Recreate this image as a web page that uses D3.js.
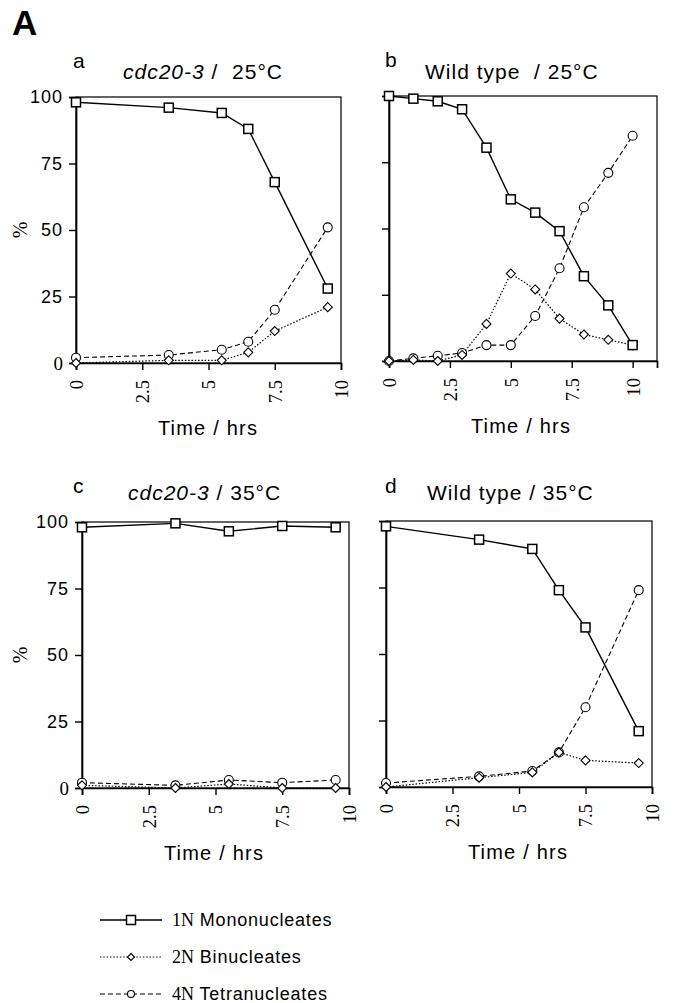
<!DOCTYPE html>
<html>
<head>
<meta charset="utf-8">
<script src="https://cdn.jsdelivr.net/npm/d3@7"></script>
<style>
  body { margin: 0; background: #fff; }
  svg { display: block; }
  text { fill: #000; }
  .sans { font-family: "Liberation Sans", Arial, sans-serif; }
  .serif { font-family: "Liberation Serif", "Times New Roman", serif; }
</style>
</head>
<body>
<script>
  // data (% of cells)
  var timesA = [0, 3.5, 5.5, 6.5, 7.5, 9.5];
  var monoA = [98, 96, 94, 88, 68, 28];
  var biA = [0, 1, 1, 4, 12, 21];
  var tetraA = [2, 3, 5, 8, 20, 51];

  var timesB = [0, 1, 2, 3, 4, 5, 6, 7, 8, 9, 10];
  var monoB = [100, 99, 98, 95, 80.5, 61, 56, 49, 32, 21, 6];
  var biB = [0, 0.4, 0, 2.3, 14, 33, 27, 16, 10, 8, 6];
  var tetraB = [0, 1, 2, 3, 6, 6, 17, 35, 58, 71, 85];

  var timesC = [0, 3.5, 5.5, 7.5, 9.5];
  var monoC = [98, 99.5, 96.5, 98.5, 98];
  var biC = [1, 0, 1.5, 0, 0];
  var tetraC = [2, 1, 3, 2, 3];

  var timesD = [0, 3.5, 5.5, 6.5, 7.5, 9.5];
  var monoD = [98, 93, 89.5, 74, 60, 21];
  var biD = [0, 3.5, 5.5, 13, 10, 9];
  var tetraD = [1.5, 4, 6, 13, 30, 74];

  var yTicks = [0, 25, 50, 75, 100];
  var xTicks = [0, 2.5, 5, 7.5, 10];
  var legendLabels = [["1N", " Mononucleates"], ["2N", " Binucleates"], ["4N", " Tetranucleates"]];

  var width = 674, height = 1003;

  var svg = d3.select("body").append("svg")
    .attr("width", width)
    .attr("height", height);

  svg.append("text")
    .attr("class", "sans")
    .attr("x", 12)
    .attr("y", 35)
    .style("font-size", "35px")
    .style("font-weight", "bold")
    .text("A");

  // series styles: solid/square, dotted/diamond, dashed/circle
  var styles = [
    { dash: null, width: 1.4, shape: "square" },
    { dash: "1.5,1.8", width: 1.2, shape: "diamond" },
    { dash: "5,3", width: 1.1, shape: "circle" }
  ];

  var panels = [
    { letter: "a", gene: "cdc20-3", temp: " /  25°C", times: timesA, series: [monoA, biA, tetraA],
      left: 76, right: 341, top: 97, bottom: 363, xMax: 10, yLabels: true, lx: 73, ly: 68, tx: 123, ty: 79 },
    { letter: "b", gene: "", temp: "Wild type  / 25°C", times: timesB, series: [monoB, biB, tetraB],
      left: 389, right: 657, top: 96, bottom: 361, xMax: 11, yLabels: false, lx: 385, ly: 67, tx: 425, ty: 79 },
    { letter: "c", gene: "cdc20-3", temp: " / 35°C", times: timesC, series: [monoC, biC, tetraC],
      left: 82, right: 349, top: 522, bottom: 788, xMax: 10, yLabels: true, lx: 73, ly: 493, tx: 128, ty: 500 },
    { letter: "d", gene: "", temp: "Wild type / 35°C", times: timesD, series: [monoD, biD, tetraD],
      left: 386, right: 652, top: 521, bottom: 787, xMax: 10, yLabels: false, lx: 385, ly: 493, tx: 427, ty: 500 }
  ];

  function drawMarker(g, shape, x, y, s) {
    if (shape == "square") {
      g.append("rect")
        .attr("x", x - s / 2).attr("y", y - s / 2)
        .attr("width", s).attr("height", s)
        .attr("fill", "#fff").attr("stroke", "#000").attr("stroke-width", 1.5);
    } else if (shape == "diamond") {
      var h = s / 2;
      g.append("path")
        .attr("d", `M${x},${y - h}L${x + h},${y}L${x},${y + h}L${x - h},${y}Z`)
        .attr("fill", "#fff").attr("stroke", "#000").attr("stroke-width", 1.1);
    } else {
      g.append("circle")
        .attr("cx", x).attr("cy", y).attr("r", s / 2)
        .attr("fill", "#fff").attr("stroke", "#000").attr("stroke-width", 1.1);
    }
  }

  panels.forEach(function(p) {
    var x = d3.scaleLinear().domain([0, p.xMax]).range([p.left, p.right]);
    var y = d3.scaleLinear().domain([0, 100]).range([p.bottom, p.top]);
    var g = svg.append("g");

    // panel letter and title
    g.append("text").attr("class", "sans")
      .attr("x", p.lx).attr("y", p.ly)
      .style("font-size", "21px")
      .text(p.letter);
    var title = g.append("text").attr("class", "sans")
      .attr("x", p.tx).attr("y", p.ty)
      .style("font-size", "21px")
      .style("letter-spacing", "1px")
      .style("white-space", "pre");
    if (p.gene) title.append("tspan").style("font-style", "italic").text(p.gene);
    title.append("tspan").text(p.temp);

    // frame
    g.append("rect")
      .attr("x", p.left).attr("y", p.top)
      .attr("width", p.right - p.left).attr("height", p.bottom - p.top)
      .attr("fill", "none").attr("stroke", "#111").attr("stroke-width", 1.3);

    // y axis
    var yAxis = g.append("g")
      .attr("transform", `translate(${p.left},0)`)
      .call(d3.axisLeft(y).tickValues(yTicks).tickSize(7)
        .tickFormat(p.yLabels ? d3.format("d") : ""));
    yAxis.select(".domain").attr("stroke-width", 1.7).attr("stroke", "#000");
    yAxis.selectAll(".tick line").attr("stroke-width", 1.4).attr("stroke", "#000");
    yAxis.selectAll(".tick text")
      .attr("class", function(d) { return d == 0 ? "serif" : "sans"; })
      .attr("x", -13)
      .style("font-size", function(d) { return d == 0 ? "19px" : "18px"; })
      .style("letter-spacing", function(d) { return d == 0 ? "0px" : "1px"; })
      .attr("fill", "#000");

    // x axis
    var xAxis = g.append("g")
      .attr("transform", `translate(0,${p.bottom})`)
      .call(d3.axisBottom(x).tickValues(xTicks).tickSize(7).tickFormat(d3.format("")));
    xAxis.select(".domain").attr("stroke-width", 1.7).attr("stroke", "#000");
    xAxis.selectAll(".tick line").attr("stroke-width", 1.4).attr("stroke", "#000");
    xAxis.selectAll(".tick text")
      .attr("class", "serif")
      .attr("transform", "rotate(-90)")
      .attr("x", -17).attr("y", 0).attr("dy", "0.35em")
      .attr("text-anchor", "end")
      .style("font-size", "18.5px")
      .attr("fill", "#000");

    if (p.yLabels) {
      g.append("text").attr("class", "serif")
        .attr("transform", `translate(27,${(p.top + p.bottom) / 2}) rotate(-90)`)
        .attr("text-anchor", "middle")
        .style("font-size", "20px")
        .text("%");
    }

    g.append("text").attr("class", "sans")
      .attr("x", x(0) + 132).attr("y", p.bottom + 72)
      .attr("text-anchor", "middle")
      .style("font-size", "20px")
      .style("letter-spacing", "1.2px")
      .text("Time / hrs");

    // series, drawn bottom-up so the solid line sits on top
    [2, 1, 0].forEach(function(si) {
      var vals = p.series[si];
      var st = styles[si];
      var pts = vals.map(function(v, i) { return [p.times[i], v]; });
      var line = d3.line().x(function(d) { return x(d[0]); }).y(function(d) { return y(d[1]); });
      g.append("path")
        .datum(pts)
        .attr("d", line)
        .attr("fill", "none")
        .attr("stroke", "#000")
        .attr("stroke-width", st.width)
        .attr("stroke-dasharray", st.dash);
      pts.forEach(function(d) {
        drawMarker(g, st.shape, x(d[0]), y(d[1]), 9);
      });
    });
  });

  // legend
  var legendY = d3.scalePoint().domain([0, 1, 2]).range([920, 994]);
  legendLabels.forEach(function(lab, i) {
    var st = styles[i];
    var ly = legendY(i);
    svg.append("line")
      .attr("x1", 100).attr("x2", 162)
      .attr("y1", ly).attr("y2", ly)
      .attr("stroke", "#000")
      .attr("stroke-width", i == 0 ? 1.6 : st.width)
      .attr("stroke-dasharray", st.dash);
    drawMarker(svg, st.shape, 131, ly, i == 0 ? 9 : 7);
    var t = svg.append("text")
      .attr("x", 172).attr("y", ly).attr("dy", "0.36em")
      .style("font-size", "18px");
    t.append("tspan").attr("class", "serif").text(lab[0]);
    t.append("tspan").attr("class", "sans").style("letter-spacing", "0.8px").style("white-space", "pre").text(lab[1]);
  });
</script>
</body>
</html>
